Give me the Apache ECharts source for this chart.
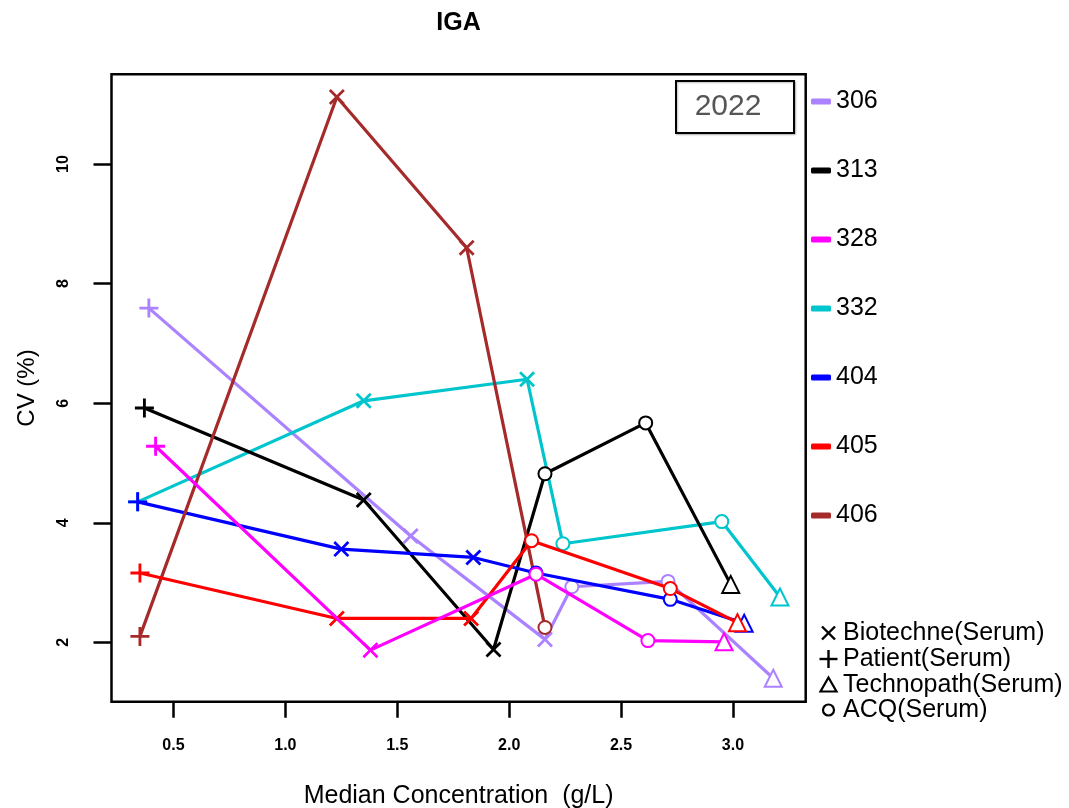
<!DOCTYPE html>
<html><head><meta charset="utf-8">
<script src="https://cdn.jsdelivr.net/npm/echarts@6/dist/echarts.min.js"></script>
<style>html,body{margin:0;padding:0;background:#fff}#c{width:1069px;height:808px}</style>
</head><body><div id="c"></div>
<script>
// ---- data ----
const seriesNames = ['306', '313', '328', '332', '404', '405', '406'];
const seriesColors = ['#AB82FF', '#000000', '#FF00FF', '#00C5CD', '#0000FF', '#FF0000', '#A52A2A'];
// marker codes: P = Patient(Serum), B = Biotechne(Serum), T = Technopath(Serum), A = ACQ(Serum)
const x306 = [0.39, 1.56, 2.16, 2.28, 2.71, 3.18];
const y306 = [7.59, 3.78, 2.05, 2.93, 3.02, 1.40];
const m306 = ['P', 'B', 'B', 'A', 'A', 'T'];
const x313 = [0.37, 1.35, 1.93, 2.16, 2.61, 2.99];
const y313 = [5.92, 4.38, 1.88, 4.82, 5.67, 2.97];
const m313 = ['P', 'B', 'B', 'A', 'A', 'T'];
const x328 = [0.42, 1.38, 2.12, 2.62, 2.96];
const y328 = [5.28, 1.87, 3.14, 2.03, 2.01];
const m328 = ['P', 'B', 'A', 'A', 'T'];
const x332 = [0.34, 1.35, 2.08, 2.24, 2.95, 3.21];
const y332 = [4.35, 6.04, 6.40, 3.65, 4.02, 2.76];
const m332 = ['P', 'B', 'B', 'A', 'A', 'T'];
const x404 = [0.34, 1.25, 1.84, 2.12, 2.72, 3.05];
const y404 = [4.35, 3.56, 3.42, 3.16, 2.72, 2.32];
const m404 = ['P', 'B', 'B', 'A', 'A', 'T'];
const x405 = [0.35, 1.23, 1.83, 2.10, 2.72, 3.02];
const y405 = [3.16, 2.40, 2.40, 3.70, 2.90, 2.33];
const m405 = ['P', 'B', 'B', 'A', 'A', 'T'];
const x406 = [0.35, 1.23, 1.81, 2.16];
const y406 = [2.10, 11.12, 8.60, 2.25];
const m406 = ['P', 'B', 'B', 'A'];
const xTicks = [0.5, 1.0, 1.5, 2.0, 2.5, 3.0];
const yTicks = [2, 4, 6, 8, 10];
const markerLabels = ['Biotechne(Serum)', 'Patient(Serum)', 'Technopath(Serum)', 'ACQ(Serum)'];
const titleText = 'IGA';
const yearText = '2022';
const xName = 'Median Concentration  (g/L)';
const yName = 'CV (%)';

const allX = [x306, x313, x328, x332, x404, x405, x406];
const allY = [y306, y313, y328, y332, y404, y405, y406];
const allM = [m306, m313, m328, m332, m404, m405, m406];

// ---- styling ----
const FONT = '"Liberation Sans", Arial, sans-serif';
const PLUS = 'path://M6.8,0H9.2V6.8H16V9.2H9.2V16H6.8V9.2H0V6.8H6.8Z';
const CROSS = 'path://M1.7,0L7,5.3L12.3,0L14,1.7L8.7,7L14,12.3L12.3,14L7,8.7L1.7,14L0,12.3L5.3,7L0,1.7Z';

function markerItem(code, color) {
  if (code === 'P') return { symbol: PLUS, symbolSize: 19, itemStyle: { color: color, borderWidth: 0 } };
  if (code === 'B') return { symbol: CROSS, symbolSize: 16, itemStyle: { color: color, borderWidth: 0 } };
  if (code === 'T') return { symbol: 'emptyTriangle', symbolSize: 17, itemStyle: { color: color, borderColor: color, borderWidth: 2.6 } };
  return { symbol: 'emptyCircle', symbolSize: 13, itemStyle: { color: color, borderColor: color, borderWidth: 2.4 } };
}

const zOrder = [2, 3, 6, 2, 4, 5, 4];
const series = seriesNames.map((name, i) => ({
  name: name,
  type: 'line',
  color: seriesColors[i],
  z: zOrder[i],
  showSymbol: true,
  showAllSymbol: true,
  lineStyle: { color: seriesColors[i], width: 3.2 },
  itemStyle: { color: seriesColors[i] },
  emphasis: { disabled: true },
  data: allX[i].map((x, k) => Object.assign({ value: [x, allY[i][k]] }, markerItem(allM[i][k], seriesColors[i])))
}));

// bottom marker legend drawn as graphics
const legY = [633, 659, 685, 710];
const lx = 828.5;
const lc = '#000';
const markerGraphics = [
  { type: 'line', shape: { x1: lx - 6.5, y1: legY[0] - 6.5, x2: lx + 6.5, y2: legY[0] + 6.5 }, style: { stroke: lc, lineWidth: 2.4 } },
  { type: 'line', shape: { x1: lx - 6.5, y1: legY[0] + 6.5, x2: lx + 6.5, y2: legY[0] - 6.5 }, style: { stroke: lc, lineWidth: 2.4 } },
  { type: 'line', shape: { x1: lx - 9, y1: legY[1], x2: lx + 9, y2: legY[1] }, style: { stroke: lc, lineWidth: 2.4 } },
  { type: 'line', shape: { x1: lx, y1: legY[1] - 9, x2: lx, y2: legY[1] + 9 }, style: { stroke: lc, lineWidth: 2.4 } },
  { type: 'polygon', shape: { points: [[lx, legY[2] - 7.5], [lx + 8, legY[2] + 6.5], [lx - 8, legY[2] + 6.5]] }, style: { fill: 'none', stroke: lc, lineWidth: 2.2 } },
  { type: 'circle', shape: { cx: lx, cy: legY[3], r: 5.5 }, style: { fill: 'none', stroke: lc, lineWidth: 2.2 } }
];
markerLabels.forEach((t, i) => {
  markerGraphics.push({ type: 'text', x: 843, y: legY[i], style: { text: t, font: '25px ' + FONT, fill: '#000', verticalAlign: 'middle', align: 'left' } });
});

const chart = echarts.init(document.getElementById('c'), null, { renderer: 'canvas' });
chart.setOption({
  animation: false,
  backgroundColor: '#fff',
  grid: { left: 111.5, right: 263.3, top: 74.3, bottom: 106.3, outerBoundsMode: 'none', containLabel: false, show: true, borderColor: '#000', borderWidth: 2.5, backgroundColor: 'transparent' },
  xAxis: {
    type: 'value', min: 0.223, max: 3.325,
    name: xName, nameLocation: 'middle', nameGap: 82,
    nameTextStyle: { fontFamily: FONT, fontSize: 25, color: '#000' },
    axisLine: { show: false },
    splitLine: { show: false },
    axisTick: { show: true, inside: false, length: 16, lineStyle: { color: '#000', width: 2.5 }, customValues: xTicks },
    axisLabel: { customValues: xTicks, margin: 36, fontFamily: FONT, fontSize: 16, fontWeight: 'bold', color: '#000', formatter: v => v.toFixed(1) }
  },
  yAxis: {
    type: 'value', min: 1.008, max: 11.5,
    name: yName, nameLocation: 'middle', nameGap: 72, nameRotate: 90,
    nameTextStyle: { fontFamily: FONT, fontSize: 24, color: '#000' },
    axisLine: { show: false },
    splitLine: { show: false },
    axisTick: { show: true, inside: false, length: 18, lineStyle: { color: '#000', width: 2.5 }, customValues: yTicks },
    axisLabel: { customValues: yTicks, rotate: 90, margin: 40, fontFamily: FONT, fontSize: 16, fontWeight: 'bold', color: '#000' }
  },
  legend: {
    orient: 'vertical', left: 806, top: 84,
    data: seriesNames.map(n => ({ name: n, icon: 'roundRect' })),
    itemWidth: 20, itemHeight: 6, itemGap: 44,
    selectedMode: false,
    textStyle: { fontFamily: FONT, fontSize: 25, color: '#000' }
  },
  graphic: [
    { type: 'text', x: 458.5, y: 23, style: { text: titleText, font: 'bold 25px ' + FONT, fill: '#000', align: 'center', verticalAlign: 'middle' } },
    { type: 'rect', shape: { x: 676, y: 81, width: 118, height: 52 }, style: { fill: '#fff', stroke: '#000', lineWidth: 2, shadowColor: 'rgba(0,0,0,0.25)', shadowBlur: 2, shadowOffsetX: 1, shadowOffsetY: 1 }, z: 10 },
    { type: 'text', x: 728, y: 107, z: 11, style: { text: yearText, font: '30px ' + FONT, fill: '#555', align: 'center', verticalAlign: 'middle' } }
  ].concat(markerGraphics),
  series: series
});
</script>
</body></html>
